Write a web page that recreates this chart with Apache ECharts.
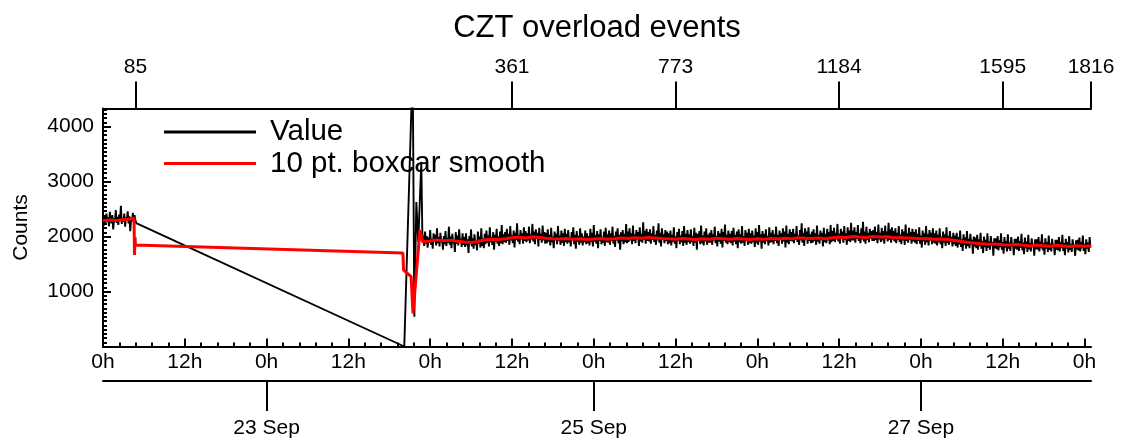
<!DOCTYPE html>
<html>
<head>
<meta charset="utf-8">
<title>CZT overload events</title>
<script src="https://cdn.jsdelivr.net/npm/echarts@6/dist/echarts.min.js"></script>
<style>
  html, body { margin: 0; padding: 0; background: #fff; }
  #chart { width: 1124px; height: 442px; }
</style>
</head>
<body>
<div id="chart"></div>
<script>
// x values are hours since 22 Sep 00:00
const xMax = 144.95
const yMax = 4330

const hourTicks = [0, 12, 24, 36, 48, 60, 72, 84, 96, 108, 120, 132, 144]
const hourLabels = ['0h', '12h', '0h', '12h', '0h', '12h', '0h', '12h', '0h', '12h', '0h', '12h', '0h']
const dateTicks = [24, 72, 120]
const dateLabels = ['23 Sep', '25 Sep', '27 Sep']
// top axis: sample index
const indexTicks = [4.77, 60, 84, 108, 132, 144.95]
const indexLabels = ['85', '361', '773', '1184', '1595', '1816']
const countTicks = [1000, 2000, 3000, 4000]

// raw values, one every 7.5 min
const sampleStep = 0.125
// first block, from 0h
const valueStart = [
  2310, 2200, 2380, 2250, 2420, 2280, 2350, 2190, 2450, 2300, 2240, 2390, 2130, 2330, 2270, 2480, 2250, 2360, 2210, 2400,
  2290, 2560, 2230, 2340, 2270, 2420, 2180, 2350, 2300, 2460, 2240, 2370, 2100, 2330, 2280, 2430, 2260, 2390, 2300
]
// end of first block, the gap and the spike after it
const valueGapHours = [4.87, 44.2, 45.43, 45.68, 45.97, 46.25, 46.7, 46.85]
const valueGap = [2245, 0, 5100, 540, 2630, 1900, 3360, 2050]
// after the spike, from 47h
const valueTailStart = 47
const valueTail = [
  2040, 1830, 2090, 1870, 2010, 1800, 1980, 1890, 2120, 1850, 1960, 1780, 2060, 1910, 2030, 1840, 2150, 1880, 1990, 1820, 2070, 1900, 1950, 1760,
  2010, 1860, 2100, 1830, 1970, 1890, 2180, 1850, 2000, 1790, 2050, 1880, 1940, 1720, 2080, 1870, 2020, 1840, 2130, 1900, 1960, 1810, 2060, 1850,
  1990, 1810, 2060, 1840, 1950, 1700, 2010, 1860, 2130, 1820, 1970, 1780, 2040, 1850, 1930, 1750, 2090, 1870, 2000, 1800, 2150, 1830, 1960, 1790,
  2050, 1860, 2110, 1890, 2020, 1820, 2170, 1900, 1990, 1850, 2080, 1760, 2030, 1910, 2140, 1870, 2000, 1830, 2090, 1880, 2210, 1860, 2040, 1900,
  2080, 1890, 2140, 1920, 2050, 1850, 2190, 1930, 2020, 1880, 2110, 1800, 2070, 1940, 2240, 1910, 2030, 1860, 2120, 1950, 2060, 1870, 2170, 1920,
  2100, 1900, 2060, 1930, 2180, 1880, 2040, 1950, 2230, 1910, 2090, 1860, 2130, 1960, 2070, 1820, 2160, 1940, 2050, 1890, 2200, 1930, 2080, 1870,
  2070, 1880, 2130, 1910, 2030, 1840, 2160, 1900, 2000, 1790, 2090, 1930, 2050, 1860, 2190, 1920, 2020, 1850, 2110, 1890, 2060, 1830, 2140, 1900,
  2050, 1870, 2120, 1900, 1990, 1820, 2080, 1930, 2170, 1860, 2030, 1780, 2100, 1910, 2010, 1850, 2150, 1890, 2060, 1840, 2000, 1900, 2110, 1860,
  2060, 1880, 2010, 1840, 2140, 1900, 2070, 1820, 2210, 1910, 2020, 1870, 2100, 1790, 2040, 1920, 2130, 1860, 1990, 1890, 2090, 1830, 2160, 1900,
  2040, 1890, 2110, 1850, 2060, 1920, 2180, 1870, 2010, 1810, 2090, 1930, 2150, 1880, 2030, 1760, 2080, 1910, 2120, 1860, 2050, 1900, 2230, 1880,
  2090, 1900, 2150, 1930, 2060, 1860, 2200, 1920, 2040, 1880, 2120, 1950, 2080, 1830, 2170, 1910, 2050, 1890, 2260, 1940, 2100, 1870, 2140, 1920,
  2080, 1910, 2130, 1870, 2060, 1940, 2190, 1900, 2030, 1850, 2110, 1930, 2240, 1890, 2070, 1820, 2150, 1950, 2040, 1880, 2120, 1920, 2090, 1860,
  2060, 1880, 2110, 1840, 2030, 1910, 2170, 1870, 2000, 1790, 2080, 1920, 2140, 1860, 2020, 1900, 2100, 1830, 2190, 1890, 2050, 1850, 2120, 1900,
  2040, 1870, 2130, 1900, 2010, 1830, 2160, 1890, 2070, 1760, 2050, 1920, 2100, 1860, 2200, 1880, 2020, 1840, 2090, 1910, 2150, 1850, 2030, 1890,
  2070, 1890, 2120, 1850, 2040, 1930, 2180, 1880, 2010, 1820, 2100, 1910, 2060, 1870, 2140, 1800, 2080, 1920, 2220, 1890, 2030, 1860, 2110, 1900,
  2050, 1880, 2100, 1840, 2160, 1910, 2030, 1860, 2090, 1790, 2130, 1900, 2040, 1870, 2190, 1890, 2010, 1830, 2120, 1920, 2070, 1850, 2140, 1880,
  2060, 1870, 2110, 1900, 2020, 1810, 2150, 1880, 2080, 1850, 2210, 1910, 2040, 1780, 2100, 1890, 2050, 1860, 2130, 1920, 2010, 1840, 2170, 1890,
  2070, 1900, 2120, 1860, 2040, 1920, 2180, 1880, 2030, 1830, 2110, 1940, 2060, 1870, 2150, 1910, 2090, 1800, 2200, 1890, 2050, 1860, 2130, 1920,
  2080, 1910, 2140, 1880, 2050, 1940, 2190, 1900, 2020, 1850, 2120, 1930, 2240, 1890, 2070, 1830, 2150, 1950, 2090, 1870, 2170, 1920, 2040, 1880,
  2090, 1890, 2130, 1920, 2060, 1850, 2200, 1910, 2030, 1870, 2110, 1940, 2070, 1820, 2160, 1900, 2050, 1880, 2140, 1930, 2080, 1860, 2210, 1900,
  2100, 1920, 2160, 1900, 2070, 1950, 2230, 1910, 2050, 1870, 2140, 1960, 2090, 1890, 2190, 1940, 2060, 1850, 2170, 1920, 2110, 1900, 2250, 1930,
  2110, 1930, 2170, 1890, 2080, 1960, 2210, 1920, 2060, 1880, 2150, 1950, 2270, 1910, 2090, 1870, 2180, 1940, 2070, 1900, 2140, 1960, 2100, 1920,
  2120, 1920, 2180, 1940, 2080, 1880, 2220, 1950, 2070, 1900, 2160, 1930, 2100, 1870, 2200, 1960, 2090, 1910, 2250, 1940, 2130, 1890, 2170, 1950,
  2100, 1910, 2150, 1880, 2070, 1940, 2190, 1900, 2040, 1860, 2130, 1930, 2090, 1850, 2220, 1920, 2060, 1890, 2160, 1940, 2080, 1870, 2140, 1910,
  2080, 1890, 2130, 1860, 2050, 1920, 2170, 1870, 2020, 1800, 2110, 1910, 2060, 1850, 2190, 1900, 2040, 1840, 2120, 1930, 2070, 1860, 2150, 1890,
  2060, 1870, 2110, 1840, 2030, 1900, 2150, 1860, 2000, 1790, 2090, 1890, 2040, 1830, 2170, 1880, 2010, 1850, 2100, 1910, 1990, 1820, 2070, 1860,
  2020, 1830, 2070, 1800, 1990, 1860, 2110, 1810, 1950, 1740, 2040, 1850, 1980, 1780, 2100, 1830, 1960, 1790, 2050, 1860, 1940, 1690, 2000, 1820,
  1980, 1790, 2030, 1760, 1950, 1830, 2070, 1780, 1920, 1700, 2000, 1810, 1940, 1740, 2060, 1800, 1910, 1760, 2010, 1830, 1900, 1650, 1970, 1790,
  1970, 1770, 2010, 1750, 1930, 1810, 2060, 1760, 1900, 1690, 1990, 1800, 1920, 1730, 2040, 1780, 1890, 1740, 1990, 1820, 1880, 1660, 1960, 1780,
  1960, 1760, 2000, 1740, 1920, 1800, 2050, 1750, 1890, 1680, 1980, 1790, 1910, 1720, 2030, 1770, 1880, 1730, 1970, 1810, 1870, 1650, 1950, 1770,
  1950, 1760, 1990, 1730, 1910, 1790, 2040, 1750, 1880, 1670, 1970, 1780, 1900, 1720, 2020, 1760, 1870, 1730, 1960, 1800, 1860, 1660, 1940, 1760,
  1940, 1750, 1990, 1730, 1900, 1790, 2030, 1740, 1880, 1660, 1960, 1780, 1900, 1710, 2010, 1760, 1860, 1720, 1950, 1800, 1850, 1650, 1930, 1760,
  1940, 1750, 1980, 1730, 1900, 1790, 2020, 1740, 1870, 1680, 1950, 1780, 1890, 1720, 1990, 1800
]

// 10 pt. boxcar smooth
const smoothHeadHours = [0, 1, 2, 3, 4, 4.55, 4.62, 4.7, 4.75, 44.0, 44.1, 45.2, 45.48, 46.5, 46.9]
const smoothHead = [2290, 2300, 2290, 2310, 2320, 2340, 1664, 1990, 1845, 1700, 1390, 1270, 604, 2118, 1905]
// hourly from 47h
const smoothTailStart = 47
const smoothTailStep = 1
const smoothTail = [
  1930, 1920, 1940, 1925, 1935, 1915, 1900, 1890, 1910, 1940, 1950, 1945, 1960, 1980, 1990, 1975, 1995, 1985, 1970, 1960,
  1955, 1965, 1950, 1960, 1945, 1955, 1965, 1950, 1960, 1975, 1965, 1980, 1970, 1985, 1975, 1965, 1960, 1950, 1965, 1955,
  1945, 1960, 1950, 1970, 1960, 1950, 1965, 1955, 1945, 1960, 1950, 1965, 1955, 1970, 1960, 1980, 1970, 1965, 1975, 1960,
  1980, 1990, 1985, 2000, 1990, 1985, 2000, 1990, 1995, 1985, 1980, 1975, 1970, 1960, 1965, 1950, 1955, 1945, 1930, 1910,
  1890, 1880, 1870, 1860, 1865, 1850, 1845, 1855, 1840, 1830, 1845, 1835, 1825, 1840, 1830, 1820, 1835, 1825
]
const smoothEndHour = 144.95
const smoothEnd = 1830

const valueData = valueStart.map((v, i) => [i * sampleStep, v])
  .concat(valueGapHours.map((h, i) => [h, valueGap[i]]))
  .concat(valueTail.map((v, i) => [valueTailStart + i * sampleStep, v]))
const smoothData = smoothHeadHours.map((h, i) => [h, smoothHead[i]])
  .concat(smoothTail.map((v, i) => [smoothTailStart + i * smoothTailStep, v]))
  .concat([[smoothEndHour, smoothEnd]])

const font = 'Liberation Sans, Arial, Helvetica, sans-serif'
const black = '#000'

const chart = echarts.init(document.getElementById('chart'))
const option = {
  animation: false,
  backgroundColor: '#fff',
  textStyle: { fontFamily: font },
  title: {
    text: 'CZT overload events',
    left: 592,
    textAlign: 'center',
    top: 8,
    textStyle: { fontFamily: font, fontSize: 31, fontWeight: 'normal', color: black }
  },
  legend: {
    orient: 'vertical',
    left: 159,
    top: 112,
    itemWidth: 92,
    itemHeight: 3,
    itemGap: 1.5,
    icon: 'rect',
    textStyle: { fontFamily: font, fontSize: 29.5, color: black, padding: [0, 0, 0, 9] },
    data: ['Value', '10 pt. boxcar smooth']
  },
  grid: { left: 103, right: 33, top: 108.5, bottom: 95.5, containLabel: false, outerBoundsMode: 'none' },
  xAxis: [
    {
      type: 'value',
      position: 'bottom',
      min: 0,
      max: xMax,
      interval: 12,
      axisLine: { show: true, lineStyle: { color: black, width: 2 } },
      axisTick: { show: true, inside: true, length: 8, customValues: hourTicks, lineStyle: { color: black, width: 2 } },
      minorTick: { show: true, splitNumber: 5, length: 4, lineStyle: { color: black, width: 2 } },
      axisLabel: {
        customValues: hourTicks,
        formatter: (v) => hourLabels[hourTicks.indexOf(v)],
        margin: 5,
        fontSize: 21,
        color: black,
        fontFamily: font
      },
      splitLine: { show: false }
    },
    {
      type: 'value',
      position: 'bottom',
      offset: 34.5,
      min: 0,
      max: xMax,
      axisLine: { show: true, lineStyle: { color: black, width: 2 } },
      axisTick: { show: true, inside: false, length: 30, customValues: dateTicks, lineStyle: { color: black, width: 2 } },
      axisLabel: {
        customValues: dateTicks,
        formatter: (v) => dateLabels[dateTicks.indexOf(v)],
        margin: 37,
        fontSize: 21,
        color: black,
        fontFamily: font
      },
      splitLine: { show: false }
    },
    {
      type: 'value',
      position: 'top',
      min: 0,
      max: xMax,
      axisLine: { show: true, lineStyle: { color: black, width: 2 } },
      axisTick: { show: true, inside: false, length: 27, customValues: indexTicks, lineStyle: { color: black, width: 2 } },
      axisLabel: {
        customValues: indexTicks,
        formatter: (v) => {
          let best = 0
          indexTicks.forEach((t, i) => { if (Math.abs(t - v) < Math.abs(indexTicks[best] - v)) best = i })
          return indexLabels[best]
        },
        margin: 31,
        fontSize: 21,
        color: black,
        fontFamily: font
      },
      splitLine: { show: false }
    }
  ],
  yAxis: {
    type: 'value',
    min: 0,
    max: yMax,
    interval: 1000,
    name: 'Counts',
    nameLocation: 'middle',
    nameRotate: 90,
    nameGap: 71,
    nameTextStyle: { fontFamily: font, fontSize: 21, color: black },
    axisLine: { show: true, lineStyle: { color: black, width: 2 } },
    axisTick: { show: true, inside: true, length: 8, customValues: [0].concat(countTicks), lineStyle: { color: black, width: 2 } },
    minorTick: { show: true, splitNumber: 13, length: 4, lineStyle: { color: black, width: 2 } },
    axisLabel: {
      customValues: countTicks,
      formatter: (v) => String(v),
      margin: 9,
      fontSize: 21,
      color: black,
      fontFamily: font
    },
    splitLine: { show: false }
  },
  series: [
    {
      name: 'Value',
      type: 'line',
      xAxisIndex: 0,
      symbol: 'none',
      clip: true,
      color: black,
      lineStyle: { color: black, width: 1.9 },
      data: valueData,
      z: 2
    },
    {
      name: '10 pt. boxcar smooth',
      type: 'line',
      xAxisIndex: 0,
      symbol: 'none',
      clip: true,
      color: '#ff0000',
      lineStyle: { color: '#ff0000', width: 3 },
      data: smoothData,
      z: 3
    }
  ]
}
chart.setOption(option)
</script>
</body>
</html>
